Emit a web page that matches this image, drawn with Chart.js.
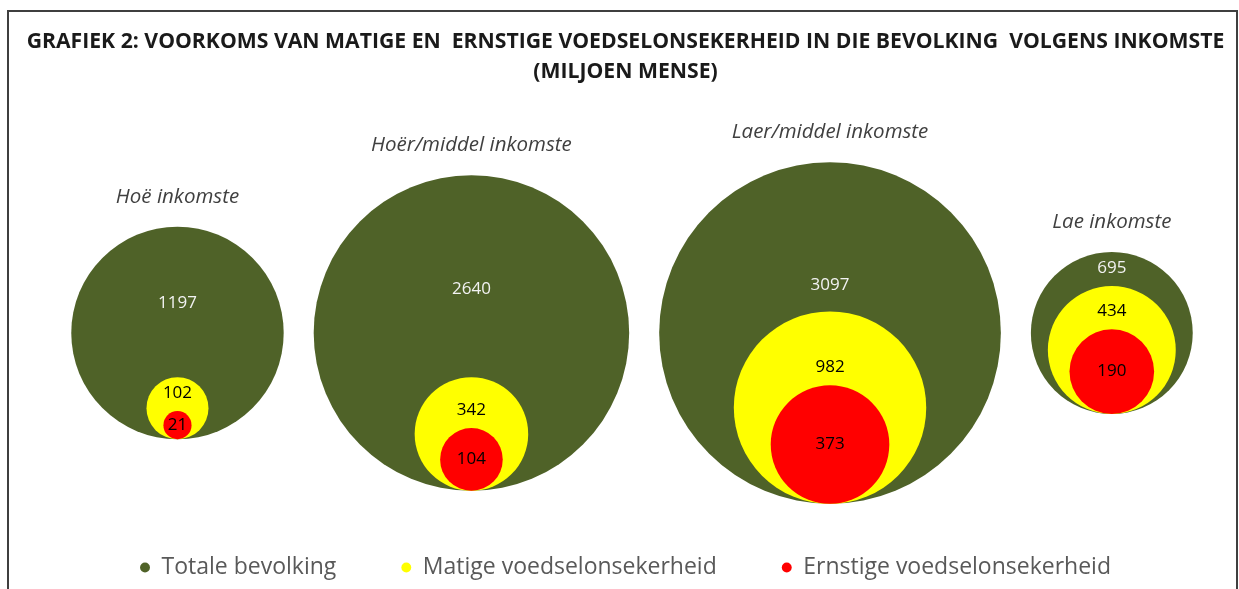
<!DOCTYPE html>
<html>
<head>
<meta charset="utf-8">
<title>Grafiek 2</title>
<script src="https://cdn.jsdelivr.net/npm/chart.js@4"></script>
<style>
  html, body { margin: 0; padding: 0; background: #fff; overflow: hidden; }
  #frame { position: absolute; left: 7px; top: 10px; width: 1227px; height: 600px;
           border: 2px solid #3f3f3f; border-bottom: none; }
  #frame canvas { display: block; }
</style>
</head>
<body>
<div id="frame"><canvas id="myChart" width="1227" height="577"></canvas></div>
<script>
// Data (miljoen mense)
const categories = ['Hoë inkomste', 'Hoër/middel inkomste', 'Laer/middel inkomste', 'Lae inkomste'];
const totaleBevolking = [1197, 2640, 3097, 695];
const matigeOnsekerheid = [102, 342, 982, 434];
const ernstigeOnsekerheid = [21, 104, 373, 190];
const seriesNames = ['Totale bevolking', 'Matige voedselonsekerheid', 'Ernstige voedselonsekerheid'];

const greenColor = '#4f6228';
const yellowColor = '#ffff00';
const redColor = '#ff0000';

// bubble area follows the value, radius is in pixels
const sizeFactor = 3.07;
const bubbleGap = 30;
const radius = v => sizeFactor * Math.sqrt(v);

// outer circles side by side with a fixed gap, whole group centred on x = 0
const outerR = totaleBevolking.map(radius);
const groupWidth = outerR.reduce((s, r) => s + 2 * r, 0) + bubbleGap * (outerR.length - 1);
let cursor = -groupWidth / 2;
const centersX = outerR.map(r => {
  const c = cursor + r;
  cursor += 2 * r + bubbleGap;
  return c;
});

// inner circles rest on the bottom of the outer circle
function bubbles(values) {
  return values.map((v, i) => {
    const r = radius(v);
    return { x: centersX[i], y: r - outerR[i], r: r, v: v };
  });
}

const common = { borderWidth: 0, pointStyle: 'circle', clip: false, hoverRadius: 0 };
const datasets = [
  Object.assign({ label: seriesNames[0], data: bubbles(totaleBevolking), backgroundColor: greenColor, order: 3 }, common),
  Object.assign({ label: seriesNames[1], data: bubbles(matigeOnsekerheid), backgroundColor: yellowColor, order: 2 }, common),
  Object.assign({ label: seriesNames[2], data: bubbles(ernstigeOnsekerheid), backgroundColor: redColor, order: 1 }, common)
];

// value labels inside the circles and category names above them
const valueLabels = {
  id: 'valueLabels',
  afterDatasetsDraw(chart) {
    const ctx = chart.ctx;
    const metas = chart.data.datasets.map((ds, i) => chart.getDatasetMeta(i));
    ctx.save();
    ctx.textAlign = 'center';
    ctx.textBaseline = 'middle';
    metas.forEach((meta, d) => {
      meta.data.forEach((el, i) => {
        const r = el.options.radius;
        let y = el.y;
        if (d < metas.length - 1) {
          const inner = metas[d + 1].data[i];
          const innerTop = inner.y - inner.options.radius;
          y = Math.min(el.y - 0.28 * r, innerTop - 18);
        }
        ctx.font = '17px "Open Sans"';
        ctx.fillStyle = d === 0 ? '#f2f2f2' : '#000000';
        ctx.fillText(String(chart.data.datasets[d].data[i].v), el.x, y);
        if (d === 0) {
          ctx.font = 'italic 20.5px "Open Sans"';
          ctx.fillStyle = '#404040';
          ctx.fillText(categories[i], el.x, el.y - r - 30);
        }
      });
    });
    ctx.restore();
  }
};

const ctx = document.getElementById('myChart').getContext('2d');
const chart = new Chart(ctx, {
  type: 'bubble',
  data: { datasets: datasets },
  options: {
    responsive: false,
    animation: false,
    events: [],
    layout: { autoPadding: false, padding: { left: 6, right: 0, top: 0, bottom: 0 } },
    scales: {
      x: { type: 'linear', display: false },
      y: { type: 'linear', display: false }
    },
    plugins: {
      title: {
        display: true,
        text: ['GRAFIEK 2: VOORKOMS VAN MATIGE EN  ERNSTIGE VOEDSELONSEKERHEID IN DIE BEVOLKING  VOLGENS INKOMSTE',
               '(MILJOEN MENSE)'],
        color: '#1a1a1a',
        font: { family: 'Open Sans', size: 21.2, weight: 'bold', lineHeight: '30px' },
        padding: { top: 15, bottom: 10 }
      },
      legend: {
        position: 'bottom',
        labels: {
          usePointStyle: true,
          pointStyle: 'circle',
          boxWidth: 10,
          boxHeight: 7,
          padding: 65,
          color: '#595959',
          font: { family: 'Open Sans', size: 23 },
          sort: (a, b) => a.datasetIndex - b.datasetIndex
        }
      },
      tooltip: { enabled: false }
    }
  },
  plugins: [valueLabels]
});

// one scale unit = one pixel: bubble group centred at groupCentreX, bubble row centre at centreY
const groupCentreX = 623;
const centreY = 321;
const area = chart.chartArea;
chart.options.scales.x.min = -(groupCentreX - area.left);
chart.options.scales.x.max = area.right - groupCentreX;
chart.options.scales.y.min = -(area.bottom - centreY);
chart.options.scales.y.max = centreY - area.top;
chart.update();
</script>
</body>
</html>
